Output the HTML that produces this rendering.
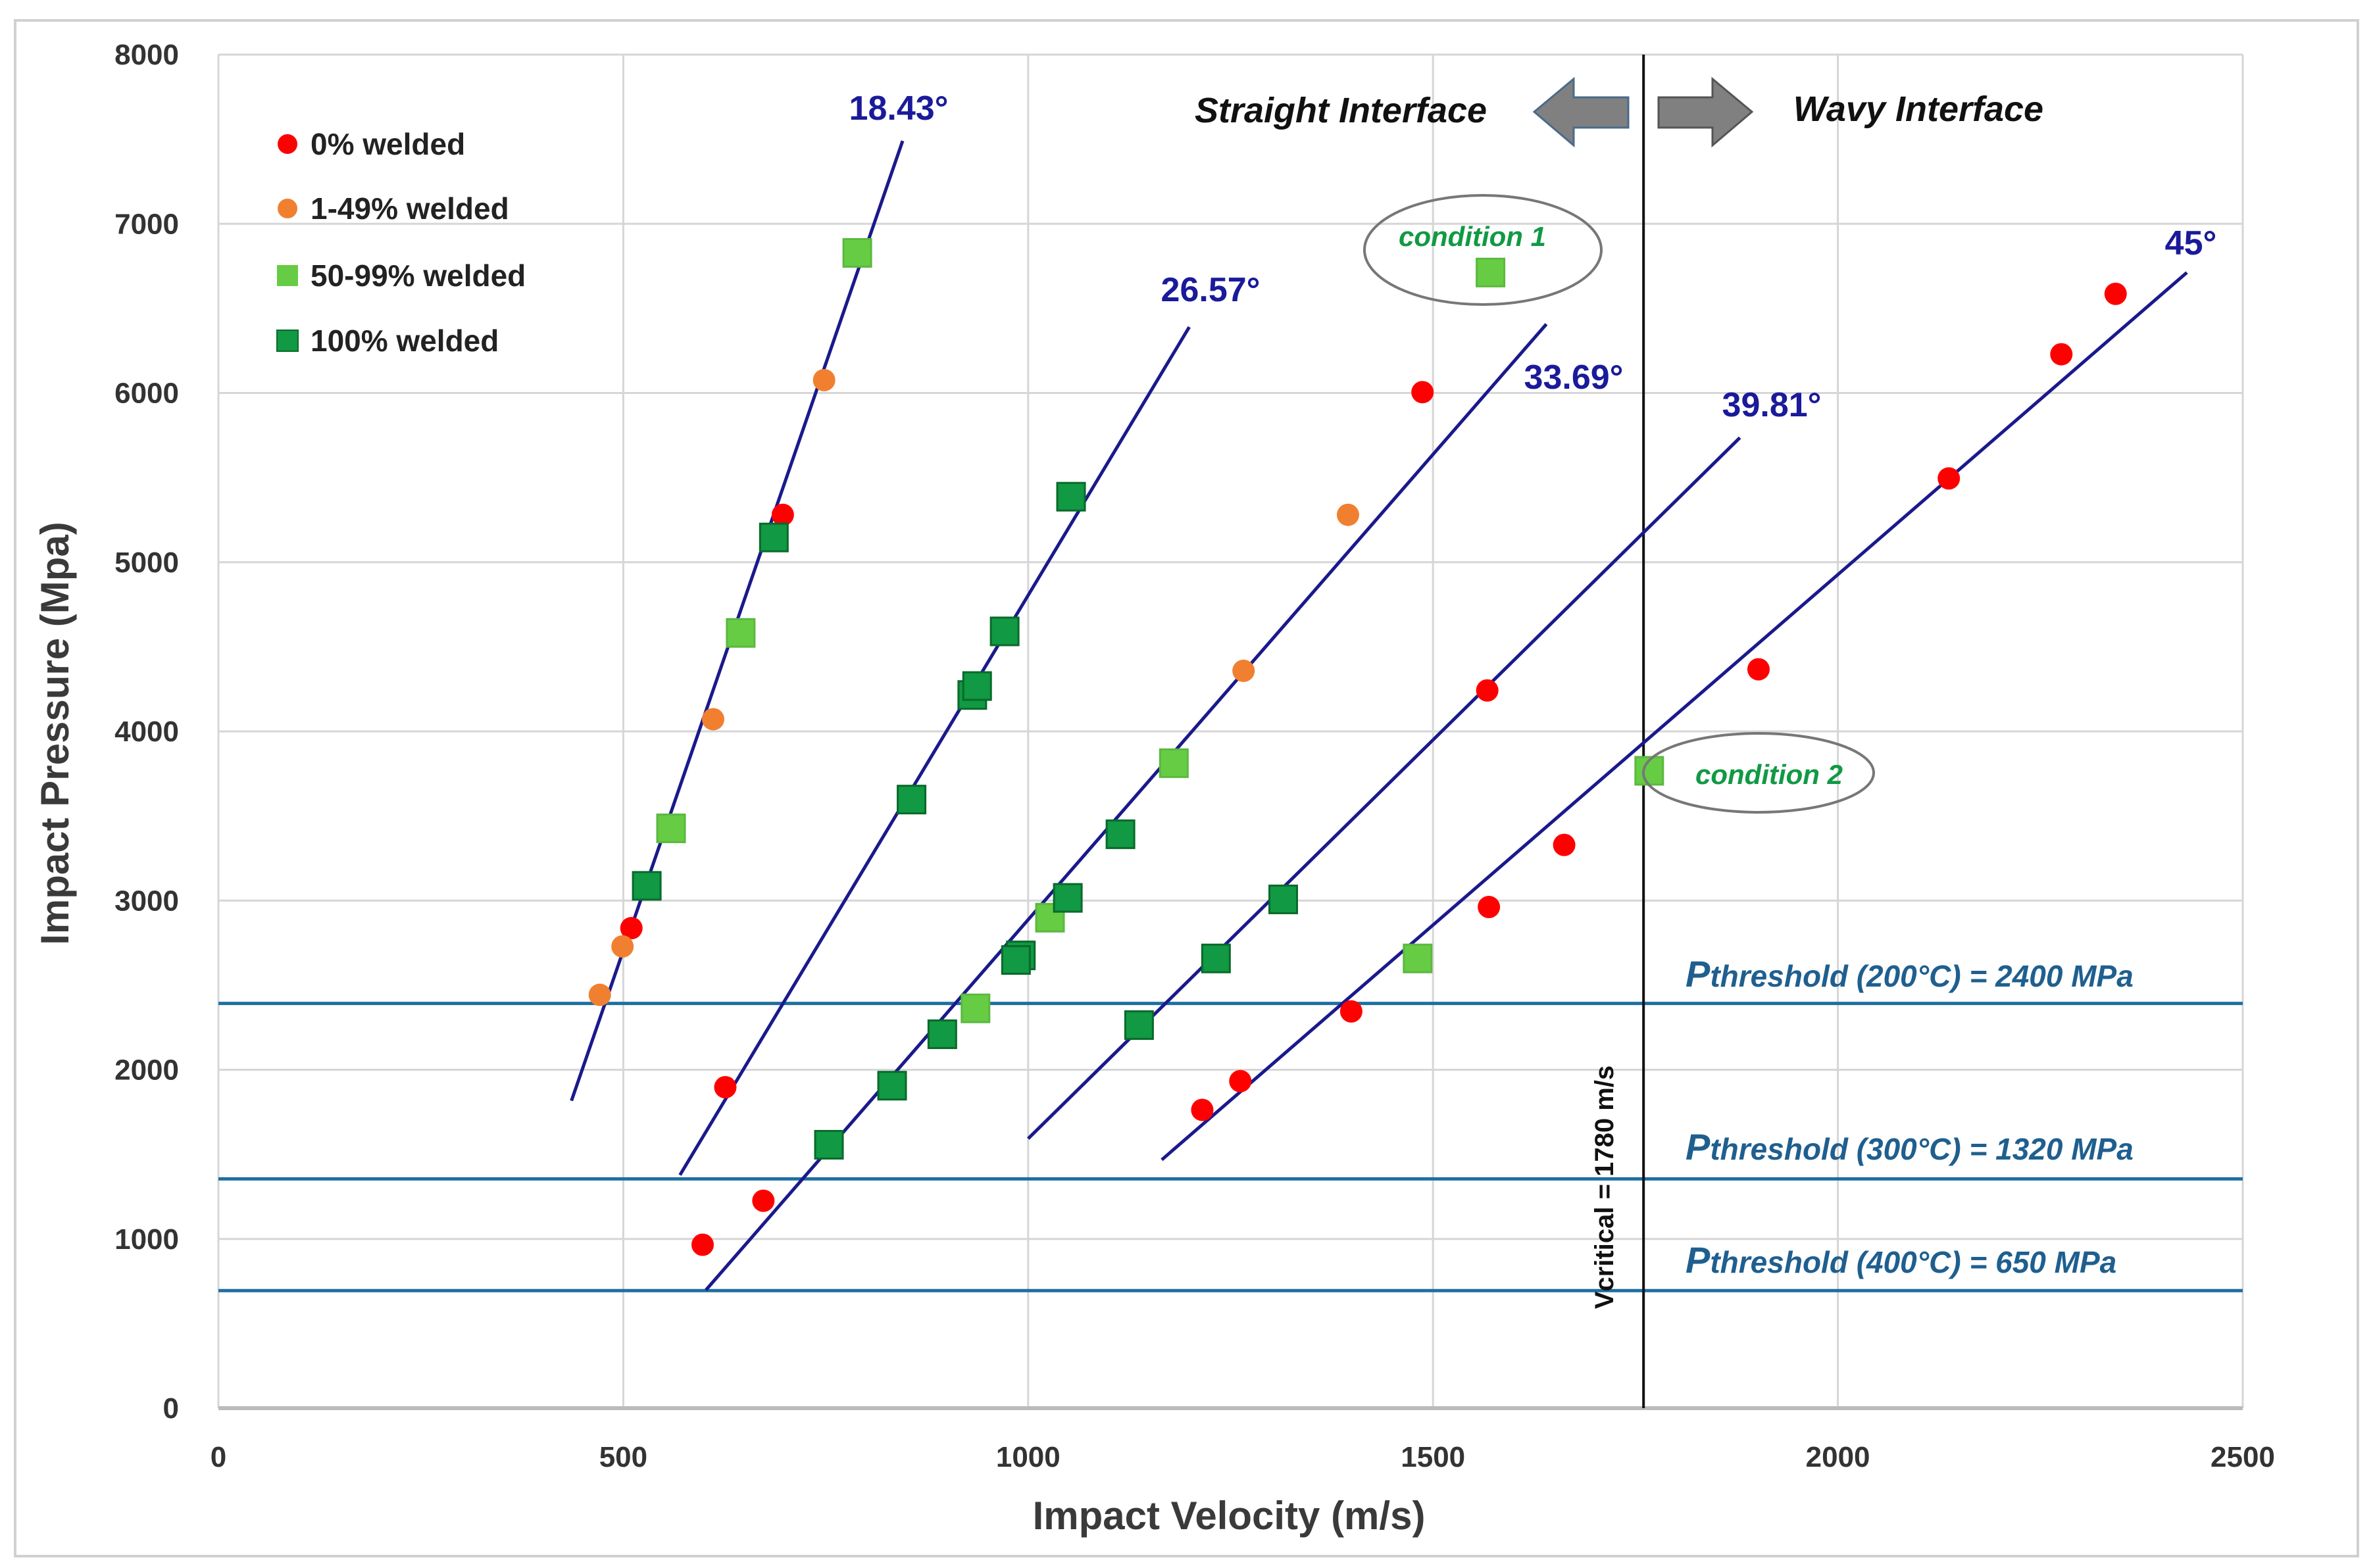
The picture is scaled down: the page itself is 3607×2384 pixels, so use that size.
<!DOCTYPE html>
<html><head><meta charset="utf-8"><style>
html,body{margin:0;padding:0;background:#fff}
svg{display:block}
text{font-family:"Liberation Sans",sans-serif}
</style></head><body>
<svg id="chart" width="3607" height="2384" viewBox="0 0 3607 2384" xmlns="http://www.w3.org/2000/svg">
<rect x="23" y="31" width="3561" height="2335" fill="#fff" stroke="#d0d0d0" stroke-width="4"/>
<g id="grid"></g>
<g id="thr"></g>
<g id="fits"></g>
<g id="marks"></g>
<g id="ticks"></g>
<text x="1868" y="2325" font-size="60" font-weight="bold" fill="#3a3a3a" text-anchor="middle">Impact Velocity (m/s)</text>
<text transform="translate(104,1115) rotate(-90)" font-size="60" font-weight="bold" fill="#3a3a3a" text-anchor="middle">Impact Pressure (Mpa)</text>
<g font-size="46" font-weight="bold" fill="#222">
 <circle cx="437" cy="219" r="15" fill="#f00"/>
 <text x="472" y="235">0% welded</text>
 <circle cx="437" cy="317" r="15" fill="#f08030"/>
 <text x="472" y="333">1-49% welded</text>
 <rect x="421" y="403" width="32" height="32" fill="#66cc44"/>
 <text x="472" y="435">50-99% welded</text>
 <rect x="421" y="502" width="32" height="32" fill="#119944" stroke="#0a6a2a" stroke-width="2"/>
 <text x="472" y="534">100% welded</text>
</g>
<g font-weight="bold" font-style="italic" font-size="54" fill="#111">
 <text x="2038" y="186" text-anchor="middle">Straight Interface</text>
 <text x="2916" y="184" text-anchor="middle">Wavy Interface</text>
</g>
<polygon points="2332,170 2392,120 2392,148 2475,148 2475,194 2392,194 2392,221" fill="#808080" stroke="#4a6a8a" stroke-width="3"/>
<polygon points="2663,170 2603,120 2603,148 2521,148 2521,194 2603,194 2603,221" fill="#808080" stroke="#555" stroke-width="3"/>
<ellipse cx="2254" cy="380" rx="180" ry="83" fill="none" stroke="#777" stroke-width="4"/>
<text x="2238" y="374" font-size="42" font-weight="bold" font-style="italic" fill="#119944" text-anchor="middle">condition 1</text>
<ellipse cx="2673" cy="1175" rx="175" ry="60" fill="none" stroke="#777" stroke-width="4"/>
<text x="2689" y="1192" font-size="42" font-weight="bold" font-style="italic" fill="#119944" text-anchor="middle">condition 2</text>
<g font-style="italic" font-weight="bold" fill="#1f5f8f" font-size="46">
 <text x="2562" y="1500"><tspan font-size="56">P</tspan>threshold (200°C) = 2400 MPa</text>
 <text x="2562" y="1763"><tspan font-size="56">P</tspan>threshold (300°C) = 1320 MPa</text>
 <text x="2562" y="1935"><tspan font-size="56">P</tspan>threshold (400°C) = 650 MPa</text>
</g>
<text transform="translate(2452,1805) rotate(-90)" font-size="40" font-weight="bold" fill="#111" text-anchor="middle">Vcritical = 1780 m/s</text>
<g id="angles" font-size="52" font-weight="bold" fill="#1a1a9a" text-anchor="middle"></g>
</svg>
<script>
const xTicks=[0,500,1000,1500,2000,2500];
const yTicks=[0,1000,2000,3000,4000,5000,6000,7000,8000];
const thresholds=[2392,1355,695];
const vCritical=1760;
const red0V=[510,697,626,598,673,1487,1567,1902,2137,2276,2343,1662,1569,1399,1262,1215];
const red0P=[2837,5280,1897,966,1226,6005,4242,4367,5495,6229,6586,3329,2962,2345,1933,1763];
const orangeV=[471,499,611,748,1395,1266];
const orangeP=[2443,2729,4072,6076,5280,4358];
const lightV=[559,645,789,935,1027,1180,1571,1767,1481];
const lightP=[3427,4582,6828,2363,2899,3812,6712,3767,2658];
const darkV=[529,686,856,931,937,971,1053,1114,1049,991,985,894,832,754,1315,1232,1137];
const darkP=[3087,5146,3597,4215,4268,4591,5387,3392,3016,2676,2649,2210,1906,1557,3007,2658,2264];
const fitV1=[436,570,602,1000,1165];
const fitP1=[1817,1378,698,1593,1468];
const fitV2=[845,1199,1640,1879,2431];
const fitP2=[7490,6390,6407,5736,6712];
const angleLabels=["18.43°","26.57°","33.69°","39.81°","45°"];
const X0=332,X1=3409,Y0=2141,Y1=83;
const sx=v=>X0+(v-0)/(2500)*(X1-X0);
const sy=p=>Y0-(p/8000)*(Y0-Y1);
const NS="http://www.w3.org/2000/svg";
function mk(tag,parent,attrs){const e=document.createElementNS(NS,tag);for(const k in attrs)e.setAttribute(k,attrs[k]);document.getElementById(parent).appendChild(e);return e;}
xTicks.forEach(t=>{
 const l=mk('line','grid',{x1:sx(t),x2:sx(t),y1:Y1,y2:Y0,stroke:'#d6d6d6','stroke-width':3});
 
 
 const tx=mk('text','ticks',{x:sx(t),y:2230,'font-size':44,'font-weight':'bold',fill:'#333','text-anchor':'middle'});
 tx.textContent=t;
 
 
});
yTicks.forEach(t=>{
 const l=mk('line','grid',{x1:X0,x2:X1,y1:sy(t),y2:sy(t),stroke:t===0?'#bbb':'#d6d6d6','stroke-width':t===0?6:3});
 
 
 const tx=mk('text','ticks',{x:272,y:sy(t)+15,'font-size':44,'font-weight':'bold',fill:'#333','text-anchor':'end'});
 tx.textContent=t;
 
 
});
thresholds.forEach(p=>{
 const l=mk('line','thr',{x1:X0,x2:X1,y1:sy(p),y2:sy(p),stroke:'#1f6fa0','stroke-width':5});
 
 
});
const vc=mk('line','thr',{x1:sx(vCritical),x2:sx(vCritical),y1:Y1,y2:Y0,stroke:'#111','stroke-width':4});


const angPos=[[1366,182],[1840,458],[2392,591],[2693,633],[3330,387]];
fitV1.forEach((v,i)=>{
 const l=mk('line','fits',{x1:sx(v),y1:sy(fitP1[i]),x2:sx(fitV2[i]),y2:sy(fitP2[i]),stroke:'#1a1a8c','stroke-width':5});
 
 
 const t=mk('text','angles',{x:angPos[i][0],y:angPos[i][1]});
 t.textContent=angleLabels[i];
 
 
});
function circles(V,P,fill,name){V.forEach((v,i)=>{
 const c=mk('circle','marks',{cx:sx(v),cy:sy(P[i]),r:17,fill:fill});
 
 
});}
function squares(V,P,fill,stroke,name){V.forEach((v,i)=>{
 const r=mk('rect','marks',{x:sx(v)-21,y:sy(P[i])-21,width:42,height:42,fill:fill,stroke:stroke,'stroke-width':3});
 
 
});}
circles(red0V,red0P,'#f00','point-0-welded');
circles(orangeV,orangeP,'#f08030','point-1-49-welded');
squares(lightV,lightP,'#66cc44','#5cb840','point-50-99-welded');
squares(darkV,darkP,'#119944','#0a6a2a','point-100-welded');
</script>
</body></html>
